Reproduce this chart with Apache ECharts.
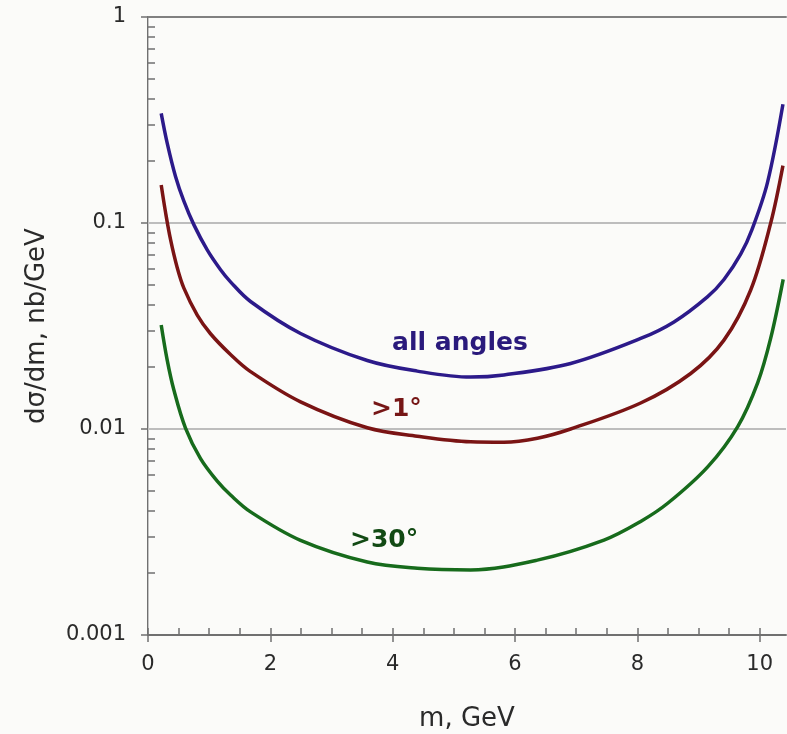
<!DOCTYPE html>
<html>
<head>
<meta charset="utf-8">
<script src="https://cdn.jsdelivr.net/npm/echarts@6/dist/echarts.min.js"></script>
<style>
  html, body { margin: 0; padding: 0; background: #fbfbf9; }
  #chart { width: 787px; height: 734px; }
</style>
</head>
<body>
<div id="chart"></div>
<script>
// Mass spectrum dσ/dm for three angular cuts (log scale)
const massAll = [0.216, 0.314, 0.45, 0.585, 0.749, 0.968, 1.186, 1.349, 1.676, 2.494, 3.585, 4.402, 5.274, 5.818, 6.909, 8.054, 8.599, 9.145, 9.416, 9.689, 9.877, 10.126, 10.38];
const sigmaAll = [0.3407, 0.2441, 0.1681, 0.1279, 0.0982, 0.0740, 0.0593, 0.0518, 0.0416, 0.0291, 0.0215, 0.0191, 0.01786, 0.0183, 0.0208, 0.0275, 0.0331, 0.0438, 0.0532, 0.0706, 0.0935, 0.1567, 0.377];

const massGt1 = [0.216, 0.286, 0.368, 0.477, 0.585, 0.805, 1.022, 1.349, 1.676, 2.494, 3.585, 4.402, 5.274, 5.818, 6.365, 6.909, 8.054, 8.872, 9.416, 9.853, 10.18, 10.38];
const sigmaGt1 = [0.1528, 0.1130, 0.0832, 0.0608, 0.0484, 0.0357, 0.0290, 0.0230, 0.0190, 0.01355, 0.01014, 0.00923, 0.00867, 0.00863, 0.00902, 0.0100, 0.01337, 0.0186, 0.0270, 0.0473, 0.100, 0.190];

const massGt30 = [0.216, 0.314, 0.422, 0.613, 0.859, 1.132, 1.35, 1.676, 2.494, 3.585, 4.402, 5.274, 6.365, 7.454, 8.054, 8.496, 9.150, 9.641, 9.968, 10.18, 10.384];
const sigmaGt30 = [0.0320, 0.0216, 0.0155, 0.0101, 0.00718, 0.00558, 0.00478, 0.00396, 0.00288, 0.00226, 0.00211, 0.00207, 0.00231, 0.00289, 0.00356, 0.00436, 0.00655, 0.01028, 0.0168, 0.0276, 0.0533];

// Curve captions, placed in data coordinates
const captionText = ['all angles', '>1°', '>30°'];
const captionMass = [5.10, 4.06, 3.86];
const captionSigma = [0.0261, 0.01237, 0.00289];

const xMajorTicks = [0, 2, 4, 6, 8, 10];
const xMinorTicks = [0, 0.5, 1, 1.5, 2, 2.5, 3, 3.5, 4, 4.5, 5, 5.5, 6, 6.5, 7, 7.5, 8, 8.5, 9, 9.5, 10];
const yMajorTicks = [0.001, 0.01, 0.1, 1];
const yMinorTicks = [0.002, 0.003, 0.004, 0.005, 0.006, 0.007, 0.008, 0.009,
                     0.02, 0.03, 0.04, 0.05, 0.06, 0.07, 0.08, 0.09,
                     0.2, 0.3, 0.4, 0.5, 0.6, 0.7, 0.8, 0.9];

const colors = ['#2c1a8a', '#7a1414', '#176b1c'];
const captionColors = ['#2a1a7c', '#761616', '#124a14'];

const X_MIN = 0, X_MAX = 10.43;
const Y_MIN = 0.001, Y_MAX = 1;
const FONT = '"DejaVu Sans", sans-serif';
const axisGray = '#707070';
const textGray = '#2a2a2a';

function pairs(xs, ys) { return xs.map((x, i) => [x, ys[i]]); }

function curve(name, xs, ys, idx) {
  return {
    name: name,
    type: 'line',
    xAxisIndex: 0,
    yAxisIndex: 0,
    data: pairs(xs, ys),
    smooth: 0.35,
    showSymbol: false,
    symbol: 'none',
    lineStyle: { color: colors[idx], width: 3.5 },
    z: 5,
    markPoint: {
      symbol: 'circle',
      symbolSize: 0,
      silent: true,
      label: {
        show: true,
        position: 'inside',
        formatter: captionText[idx],
        color: captionColors[idx],
        fontFamily: FONT,
        fontWeight: 'bold',
        fontSize: 25
      },
      data: [{ coord: [captionMass[idx], captionSigma[idx]] }]
    }
  };
}

const chart = echarts.init(document.getElementById('chart'), null, { renderer: 'canvas' });

chart.setOption({
  backgroundColor: '#fbfbf9',
  animation: false,
  grid: { left: 148, top: 17, right: 1, bottom: 99, containLabel: false, outerBoundsMode: 'none' },
  xAxis: [
    {
      type: 'value', min: X_MIN, max: X_MAX, position: 'bottom',
      name: 'm, GeV', nameLocation: 'middle', nameGap: 71,
      nameTextStyle: { fontFamily: FONT, fontSize: 26, color: textGray },
      axisLine: { show: true, lineStyle: { color: axisGray, width: 2 } },
      axisTick: { show: true, inside: false, length: 7, customValues: xMajorTicks, lineStyle: { color: axisGray, width: 1.5 } },
      axisLabel: { show: true, customValues: xMajorTicks, margin: 19, fontFamily: FONT, fontSize: 21, color: textGray },
      splitLine: { show: false }
    },
    {
      type: 'value', min: X_MIN, max: X_MAX, position: 'bottom',
      axisLine: { show: false },
      axisTick: { show: true, inside: true, length: 7, customValues: xMinorTicks, lineStyle: { color: axisGray, width: 1.5 } },
      axisLabel: { show: false },
      splitLine: { show: false }
    },
    {
      type: 'value', min: X_MIN, max: X_MAX, position: 'top',
      axisLine: { show: true, lineStyle: { color: '#808080', width: 2 } },
      axisTick: { show: false }, axisLabel: { show: false }, splitLine: { show: false }
    }
  ],
  yAxis: [
    {
      type: 'log', logBase: 10, min: Y_MIN, max: Y_MAX, position: 'left',
      name: 'dσ/dm, nb/GeV', nameLocation: 'middle', nameGap: 98,
      nameTextStyle: { fontFamily: FONT, fontSize: 26, color: textGray },
      axisLine: { show: true, lineStyle: { color: axisGray, width: 2 } },
      axisTick: { show: true, inside: false, length: 7, customValues: yMajorTicks, lineStyle: { color: axisGray, width: 1.5 } },
      axisLabel: {
        show: true, customValues: yMajorTicks, margin: 22,
        fontFamily: FONT, fontSize: 21, color: textGray,
        formatter: v => String(Number(v.toPrecision(3)))
      },
      splitLine: { show: true, lineStyle: { color: '#a8a8a8', width: 1.5 } }
    },
    {
      type: 'log', logBase: 10, min: Y_MIN, max: Y_MAX, position: 'left',
      axisLine: { show: false },
      axisTick: { show: true, inside: true, length: 7, customValues: yMinorTicks, lineStyle: { color: axisGray, width: 1.5 } },
      axisLabel: { show: false },
      splitLine: { show: false }
    },
    {
      type: 'log', logBase: 10, min: Y_MIN, max: Y_MAX, position: 'right',
      axisLine: { show: true, lineStyle: { color: '#c4c4c4', width: 1 } },
      axisTick: { show: false }, axisLabel: { show: false }, splitLine: { show: false }
    }
  ],
  series: [
    curve('all angles', massAll, sigmaAll, 0),
    curve('>1°', massGt1, sigmaGt1, 1),
    curve('>30°', massGt30, sigmaGt30, 2)
  ]
});
</script>
</body>
</html>
